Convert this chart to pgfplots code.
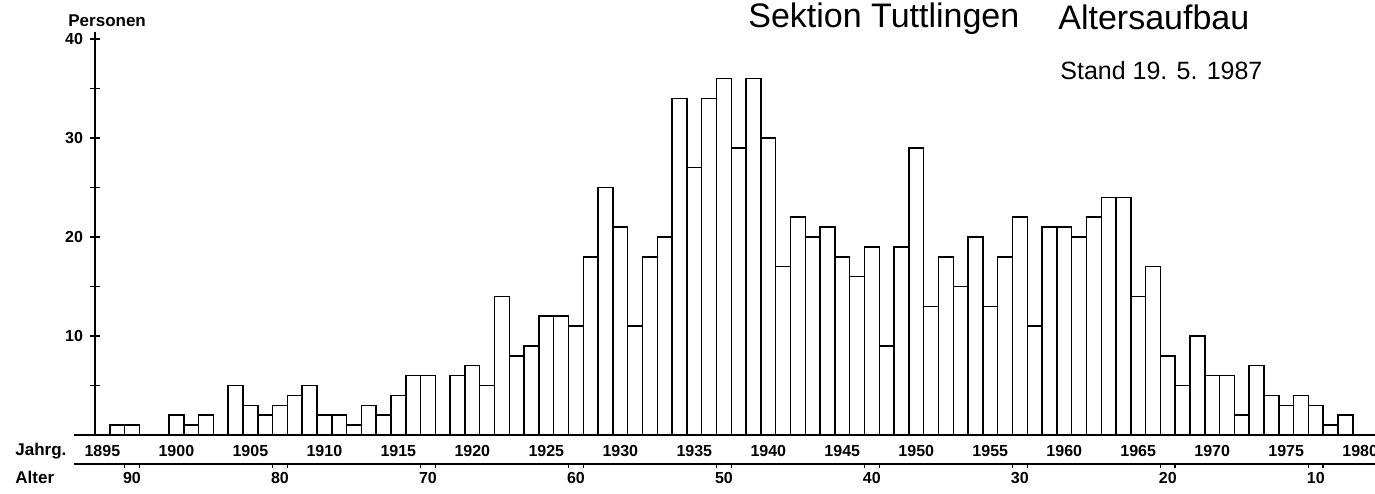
\documentclass[border=0pt]{standalone}
\usepackage{fontspec}
\setmainfont{Liberation Sans}
\usepackage{pgfplots}
\pgfplotsset{compat=1.18}

\pgfplotsset{
  tafel/.style={
    scale only axis, width=640pt,
    xmin=1894.5, xmax=1981,
    tick style={black, line width=0.75pt},
    ticklabel style={font=\bfseries\fontsize{8}{9}\selectfont},
    /pgf/number format/.cd, 1000 sep={}, assume math mode=true,
  },
  ohnepfeil/.style={
    axis line style={-, line width=0.75pt},
    x axis line style={-}, y axis line style={-},
  },
}

\begin{document}
\begin{tikzpicture}[x=1pt,y=1pt]
\path[use as bounding box] (-47.5,-29) rectangle (640,217.5);
\clip (-47.5,-29) rectangle (640,217.5);

% Jahrgaenge
\begin{axis}[
  tafel, height=201.5pt,
  ymin=0, ymax=40.7,
  axis x line=bottom, axis y line=left, ohnepfeil,
  clip=false,
  ytick={10,20,30,40}, minor ytick={5,15,25,35},
  tick align=center, major tick length=5pt, minor tick length=5pt,
  xtick={1895,1900,...,1980},
  x tick style={draw=none},
  xticklabel style={yshift=1pt},
]
\addplot[ybar, bar width=1, fill=white, draw=black, line width=0.75pt] coordinates {
  (1895,0) (1896,1) (1897,1) (1898,0) (1899,0)
  (1900,2) (1901,1) (1902,2) (1903,0) (1904,5)
  (1905,3) (1906,2) (1907,3) (1908,4) (1909,5)
  (1910,2) (1911,2) (1912,1) (1913,3) (1914,2)
  (1915,4) (1916,6) (1917,6) (1918,0) (1919,6)
  (1920,7) (1921,5) (1922,14) (1923,8) (1924,9)
  (1925,12) (1926,12) (1927,11) (1928,18) (1929,25)
  (1930,21) (1931,11) (1932,18) (1933,20) (1934,34)
  (1935,27) (1936,34) (1937,36) (1938,29) (1939,36)
  (1940,30) (1941,17) (1942,22) (1943,20) (1944,21)
  (1945,18) (1946,16) (1947,19) (1948,9) (1949,19)
  (1950,29) (1951,13) (1952,18) (1953,15) (1954,20)
  (1955,13) (1956,18) (1957,22) (1958,11) (1959,21)
  (1960,21) (1961,20) (1962,22) (1963,24) (1964,24)
  (1965,14) (1966,17) (1967,8) (1968,5) (1969,10)
  (1970,6) (1971,6) (1972,2) (1973,7) (1974,4)
  (1975,3) (1976,4) (1977,3) (1978,1) (1979,2)
};
\draw[line width=0.75pt] (axis cs:1893.08,0) -- (axis cs:1894.5,0);
\end{axis}

% Alter
\begin{axis}[
  tafel, height=10pt, at={(0,-14.5pt)},
  ymin=0, ymax=1,
  axis x line=bottom, axis y line=none, ohnepfeil,
  clip=false,
  xtick={1896.5,1897.5,1906.5,1907.5,1916.5,1917.5,1926.5,1927.5,
    1936.5,1937.5,1946.5,1947.5,1956.5,1957.5,1966.5,1967.5,1976.5,1977.5},
  xticklabels={},
  tick align=outside, major tick length=2pt,
  extra x ticks={1897,1907,...,1977},
  extra x tick labels={90,80,70,60,50,40,30,20,10},
  extra x tick style={tick style={draw=none}, xticklabel style={yshift=1.5pt}},
]
\draw[line width=0.75pt] (axis cs:1893.08,0) -- (axis cs:1894.5,0);
\end{axis}

\begin{scope}[every node/.style={inner sep=0pt, anchor=base west}]
\node[font=\bfseries\fontsize{8.5}{10}\selectfont] at (-13.5,204) {Personen};
\node[font=\bfseries\fontsize{8.5}{10}\selectfont] at (-40,-10) {Jahrg.};
\node[font=\bfseries\fontsize{8.5}{10}\selectfont] at (-40,-24) {Alter};
\node[font=\fontsize{17}{20}\selectfont] at (326.5,203.5) {Sektion Tuttlingen};
\node[font=\fontsize{17}{20}\selectfont] at (481.5,202.5) {Altersaufbau};
\node[font=\fontsize{12.5}{15}\selectfont] at (482.5,177.5) {Stand 19. 5. 1987};
\end{scope}
\end{tikzpicture}
\end{document}
